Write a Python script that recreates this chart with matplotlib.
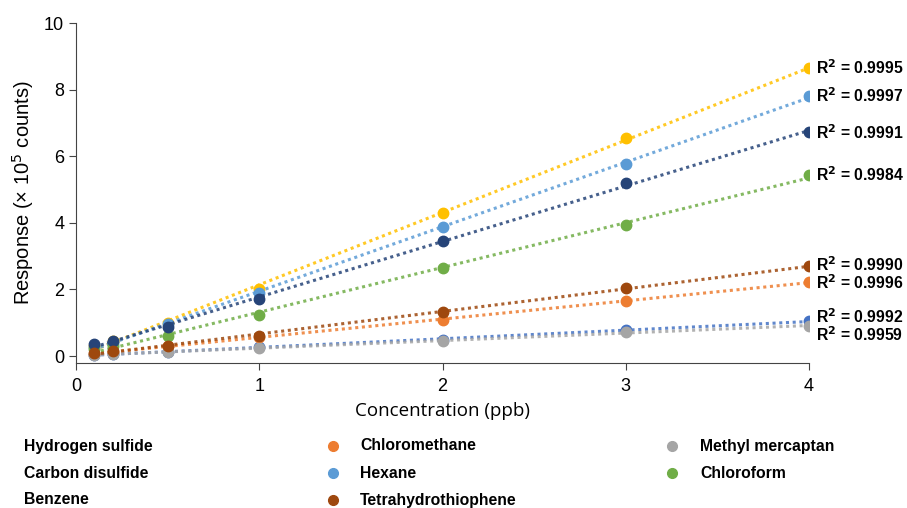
import numpy as np
import matplotlib.pyplot as plt
from matplotlib.lines import Line2D

# 濃度 (ppb)
conc = [0.1, 0.2, 0.5, 1, 2, 3, 4]

# 応答 (x 10^5 counts)
names = ['Hydrogen sulfide', 'Chloromethane', 'Methyl mercaptan',
         'Carbon disulfide', 'Hexane', 'Chloroform',
         'Benzene', 'Tetrahydrothiophene']
colors = ['#4472C4', '#ED7D31', '#A5A5A5', '#FFC000', '#5B9BD5', '#70AD47',
          '#264478', '#9E480E']
h2s = [0.03, 0.06, 0.13, 0.27, 0.48, 0.78, 1.05]
chloromethane = [0.07, 0.12, 0.30, 0.57, 1.08, 1.65, 2.22]
methyl_merc = [0.03, 0.05, 0.12, 0.25, 0.45, 0.72, 0.90]
cs2 = [0.30, 0.45, 0.99, 2.00, 4.28, 6.56, 8.65]
hexane = [0.28, 0.40, 0.95, 1.90, 3.86, 5.78, 7.81]
chloroform = [0.20, 0.30, 0.60, 1.22, 2.63, 3.92, 5.45]
benzene = [0.35, 0.45, 0.87, 1.70, 3.44, 5.21, 6.72]
tht = [0.10, 0.15, 0.30, 0.60, 1.32, 2.03, 2.71]
series = [h2s, chloromethane, methyl_merc, cs2, hexane, chloroform, benzene, tht]
r2 = ['0.9992', '0.9996', '0.9959', '0.9995', '0.9997', '0.9984', '0.9991', '0.9990']
r2_dy = [3.5, -0.5, -6.5, 0, 0, 0, 0, 0.5]  # ラベルのずれ (pt)

fig = plt.figure(figsize=(9.07, 5.08), dpi=100)
ax = fig.add_axes([0.0838, 0.2854, 0.8082, 0.6693])

for ys, c, name, r, dy in zip(series, colors, names, r2, r2_dy):
    # 線形近似 (Excel の近似曲線風)
    k, b = np.polyfit(conc, ys, 1)
    xf = np.array([conc[0], conc[-1]])
    ax.plot(xf, k * xf + b, ls=(0, (1, 1.2)), lw=2.2, color=c, alpha=0.85)
    ax.plot(conc, ys, 'o', ms=7.5, color=c, mec=c)
    ax.annotate(f'R$^{{\\mathbf{{2}}}}$ = {r}', (conc[-1], ys[-1]),
                xytext=(5, dy), textcoords='offset points', va='center',
                ha='left', fontsize=11.3, fontweight='bold',
                family='Liberation Sans', annotation_clip=False)

ax.set_xlim(0, 4)
ax.set_ylim(-0.21, 10)
ax.set_xticks([0, 1, 2, 3, 4])
ax.set_yticks([0, 2, 4, 6, 8, 10])
ax.spines['top'].set_visible(False)
ax.spines['right'].set_visible(False)
for s in ['left', 'bottom']:
    ax.spines[s].set_color('#444444')
ax.tick_params(labelsize=13, length=5, color='#444444')
ax.tick_params(axis='x', pad=6)
for lab in ax.get_xticklabels() + ax.get_yticklabels():
    lab.set_family('Liberation Sans')
ax.set_xlabel('Concentration (ppb)', fontsize=13.5, family='Open Sans', labelpad=5)
ax.set_ylabel('Response (× 10$^5$ counts)', fontsize=14.5, family='Liberation Sans', labelpad=6)

# 凡例 (手作業で配置)
leg_x_marker = [-12, 333, 672]
leg_x_text = [24, 360, 700]
leg_y = [446, 473, 500]
W, H = 907, 508
for i, (name, c) in enumerate(zip(names, colors)):
    row, col = divmod(i, 3)
    fx = leg_x_marker[col] / W
    fy = 1 - leg_y[row] / H
    fig.add_artist(Line2D([fx], [fy], marker='o', ms=7, color=c, ls='none',
                          transform=fig.transFigure))
    fig.text(leg_x_text[col] / W, fy, name, va='center', ha='left',
             fontsize=11.3, fontweight='bold',
             family=['Liberation Sans Narrow', 'Liberation Sans'])

fig.savefig('out.png', dpi=100)
